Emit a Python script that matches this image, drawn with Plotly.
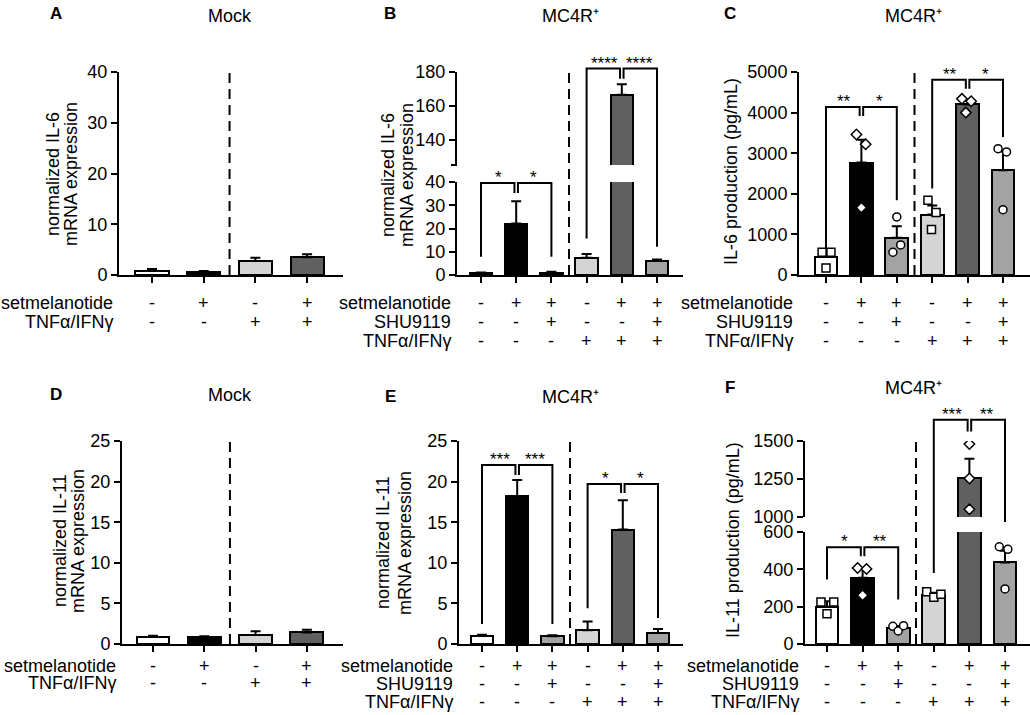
import plotly.graph_objects as go

# ---------------- data ----------------
A_mean = [0.85, 0.52, 2.75, 3.5]
A_sem = [0.33, 0.27, 0.65, 0.57]

B_mean = [0.7, 22.1, 1.0, 7.4, 166.7, 6.1]
B_sem = [0.4, 9.6, 0.4, 1.6, 6.1, 0.6]

C_mean = [445, 2770, 920, 1490, 4200, 2580]
C_sem = [120, 560, 280, 220, 100, 460]
C_points = [[560, 560, 170], [3460, 3220, 1660], [1430, 560, 740],
            [1840, 1540, 1120], [4340, 4280, 4000], [3110, 3030, 1610]]

D_mean = [0.86, 0.82, 1.1, 1.43]
D_sem = [0.16, 0.12, 0.46, 0.33]

E_mean = [1.02, 18.2, 0.94, 1.68, 14.1, 1.35]
E_sem = [0.13, 2.0, 0.13, 1.1, 3.6, 0.49]

F_mean = [200, 355, 87, 262, 1258, 437]
F_sem = [29, 52, 9, 12, 125, 63]
F_points = [[225, 225, 162], [407, 402, 261], [95, 70, 98],
            [280, 250, 266], [1480, 1253, 1051], [521, 507, 295]]

rows_2 = ["setmelanotide", "TNFα/IFNγ"]
rows_3 = ["setmelanotide", "SHU9119", "TNFα/IFNγ"]
signs_2 = [["-", "+", "-", "+"], ["-", "-", "+", "+"]]
signs_3 = [["-", "+", "+", "-", "+", "+"],
           ["-", "-", "+", "-", "-", "+"],
           ["-", "-", "-", "+", "+", "+"]]

# brackets: (left, mid, right, height, left_end, mid_end, right_end, label_left, label_right)
B_brackets = [(0, 1, 2, 39.6, 7.9, 35.3, 7.9, "*", "*"),
              (3, 4, 5, 182, 15.7, 176.1, 12.1, "****", "****")]
C_brackets = [(0, 1, 2, 4139, 650, 3918, 1844, "**", "*"),
              (3, 4, 5, 4811, 2131, 4590, 3402, "**", "*")]
E_brackets = [(0, 1, 2, 22.05, 2.46, 20.8, 2.46, "***", "***"),
              (3, 4, 5, 19.7, 4.4, 18.6, 3.2, "*", "*")]
F_brackets = [(0, 1, 2, 518, 345, 470, 238, "*", "**"),
              (3, 4, 5, 1639, 380, 1562, 967, "***", "**")]

# ---------------- styles / geometry ----------------
W, H = 1030, 715
FONT = "Liberation Sans, Arial, sans-serif"
WHITE, BLACK, LIGHT, DARK, MID = "#ffffff", "#000000", "#d4d4d4", "#606060", "#a3a3a3"
colors4 = [WHITE, BLACK, LIGHT, DARK]
colors6 = [WHITE, BLACK, MID, LIGHT, DARK, MID]
symbols6 = ["square", "diamond", "circle", "square", "diamond", "circle"]
C_offsets = [[-0.11, 0.14, 0], [-0.14, 0.12, 0], [0, -0.11, 0.11],
             [-0.12, 0.11, -0.02], [-0.16, 0.1, -0.05], [-0.14, 0.1, 0]]
F_offsets = [[-0.17, 0.19, 0], [-0.14, 0.11, 0], [-0.15, 0.0, 0.15],
             [-0.2, 0.0, 0.2], [0, 0, 0], [-0.16, 0.08, 0]]

panels = [
    dict(letter="A", title="Mock", mean=A_mean, sem=A_sem, colors=colors4,
         x0=119, x1=343, c0=152, dc=51.7,
         segs=[(0, 40, 275, 72, [0, 10, 20, 30, 40], ["0", "10", "20", "30", "40"])],
         rows=rows_2, signs=signs_2, row_y=[303, 322], dash=1.5,
         letter_xy=(56, 13), title_xy=(230, 16),
         ytitle=["normalized IL-6", "mRNA expression"], ytitle_x=[53, 71], ytitle_y=174),
    dict(letter="B", title="MC4R⁺", mean=B_mean, sem=B_sem, colors=colors6,
         x0=457, x1=683, c0=481, dc=35.2,
         segs=[(0, 40, 275, 182, [0, 10, 20, 30, 40], ["0", "10", "20", "30", "40"]),
               (125.4, 180, 165, 72, [140, 160, 180], ["140", "160", "180"])],
         rows=rows_3, signs=signs_3, row_y=[303, 322, 341], dash=2.5,
         letter_xy=(390, 13), title_xy=(570, 16), brackets=B_brackets,
         ytitle=["normalized IL-6", "mRNA expression"], ytitle_x=[388, 407], ytitle_y=175),
    dict(letter="C", title="MC4R⁺", mean=C_mean, sem=C_sem, colors=colors6,
         x0=799, x1=1030, c0=826, dc=35.4,
         segs=[(0, 5000, 275, 72, [0, 1000, 2000, 3000, 4000, 5000],
                ["0", "1000", "2000", "3000", "4000", "5000"])],
         rows=rows_3, signs=signs_3, row_y=[303, 322, 341], dash=2.5,
         letter_xy=(730, 13), title_xy=(913, 16), brackets=C_brackets,
         points=C_points, offsets=C_offsets,
         ytitle=["IL-6 production (pg/mL)"], ytitle_x=[731], ytitle_y=172),
    dict(letter="D", title="Mock", mean=D_mean, sem=D_sem, colors=colors4,
         x0=122, x1=343, c0=153, dc=51.3,
         segs=[(0, 25, 644, 441, [0, 5, 10, 15, 20, 25], ["0", "5", "10", "15", "20", "25"])],
         rows=rows_2, signs=signs_2, row_y=[666, 683], dash=1.5,
         letter_xy=(56, 394), title_xy=(230, 395),
         ytitle=["normalized IL-11", "mRNA expression"], ytitle_x=[60, 78], ytitle_y=541),
    dict(letter="E", title="MC4R⁺", mean=E_mean, sem=E_sem, colors=colors6,
         x0=459, x1=683, c0=482, dc=35.2,
         segs=[(0, 25, 644, 441, [0, 5, 10, 15, 20, 25], ["0", "5", "10", "15", "20", "25"])],
         rows=rows_3, signs=signs_3, row_y=[666, 684, 702], dash=2.5,
         letter_xy=(390, 396), title_xy=(570, 397), brackets=E_brackets,
         ytitle=["normalized IL-11", "mRNA expression"], ytitle_x=[383, 405], ytitle_y=543),
    dict(letter="F", title="MC4R⁺", mean=F_mean, sem=F_sem, colors=colors6,
         x0=805, x1=1030, c0=827, dc=35.6,
         segs=[(0, 600, 644, 532, [0, 200, 400, 600], ["0", "200", "400", "600"]),
               (1000, 1500, 517, 441, [1000, 1250, 1500], ["1000", "1250", "1500"])],
         rows=rows_3, signs=signs_3, row_y=[666, 684, 702], dash=2.5,
         letter_xy=(730, 387), title_xy=(913, 388), brackets=F_brackets,
         points=F_points, offsets=F_offsets,
         ytitle=["IL-11 production (pg/mL)"], ytitle_x=[733], ytitle_y=540),
]


def px_x(px):
    return px / W


def px_y(py):
    return 1 - py / H


def value_to_py(segs, v):
    seg = segs[0]
    if len(segs) > 1 and v > segs[0][1]:
        seg = segs[1]
    vmin, vmax, pb, pt = seg[0], seg[1], seg[2], seg[3]
    return pb + (v - vmin) * (pt - pb) / (vmax - vmin)


fig = go.Figure()
layout = dict(template="none", width=W, height=H, margin=dict(l=0, r=0, t=0, b=0, pad=0),
              autosize=False,
              paper_bgcolor="white", plot_bgcolor="white", showlegend=False,
              font=dict(family=FONT, size=18, color="black"),
              bargap=0)
shapes = []
annotations = []

xi = 0
yi = 0
axis_common = dict(showline=True, linewidth=2, linecolor="black", ticks="outside",
                   ticklen=6, tickwidth=2, tickcolor="black", showgrid=False,
                   zeroline=False, fixedrange=True, automargin=False)

for p in panels:
    xi += 1
    xname = "x" if xi == 1 else f"x{xi}"
    xkey = "xaxis" if xi == 1 else f"xaxis{xi}"
    n = len(p["mean"])
    xr = [(p["x0"] - p["c0"]) / p["dc"], (p["x1"] - p["c0"]) / p["dc"]]
    ynames = []
    for si, (vmin, vmax, pb, pt, tv, tt) in enumerate(p["segs"]):
        yi += 1
        yname = "y" if yi == 1 else f"y{yi}"
        ykey = "yaxis" if yi == 1 else f"yaxis{yi}"
        ynames.append(yname)
        layout[ykey] = dict(axis_common, domain=[px_y(pb), px_y(pt)], range=[vmin, vmax],
                            anchor=xname, tickvals=tv, ticktext=tt,
                            tickfont=dict(size=18, family=FONT, color="black"))
        if si > 0 and vmin not in tv:
            # end tick at the bottom of the upper segment
            shapes.append(dict(type="line", xref="paper", yref="paper",
                               x0=px_x(p["x0"] - 6), x1=px_x(p["x0"]),
                               y0=px_y(pb), y1=px_y(pb),
                               line=dict(color="black", width=2)))
    layout[xkey] = dict(axis_common, domain=[px_x(p["x0"]), px_x(p["x1"])], range=xr,
                        anchor=ynames[0], tickvals=list(range(n)), showticklabels=False)

    xs = list(range(n))
    for yname in ynames:
        fig.add_trace(go.Bar(
            x=xs, y=p["mean"], xaxis=xname, yaxis=yname, width=0.64,
            marker=dict(color=p["colors"], line=dict(color="black", width=2)),
            error_y=dict(type="data", array=p["sem"], arrayminus=[0] * n, symmetric=False,
                         color="black", thickness=2, width=5),
            hoverinfo="skip"))
        if "points" in p:
            px_list, py_list, sym_list = [], [], []
            for i, (vals, offs) in enumerate(zip(p["points"], p["offsets"])):
                for v, o in zip(vals, offs):
                    px_list.append(i + o)
                    py_list.append(v)
                    sym_list.append(symbols6[i])
            fig.add_trace(go.Scatter(
                x=px_list, y=py_list, xaxis=xname, yaxis=yname, mode="markers",
                marker=dict(symbol=sym_list, size=8, color="white",
                            line=dict(color="black", width=1.5)),
                hoverinfo="skip"))

    # dashed separator
    top_py = p["segs"][-1][3] - 4
    bot_py = p["segs"][0][2]
    shapes.append(dict(type="line", xref=xname, yref="paper", x0=p["dash"], x1=p["dash"],
                       y0=px_y(bot_py), y1=px_y(top_py),
                       line=dict(color="black", width=2, dash="10px,6px")))

    # brackets
    g = 0.05
    for (l, m, r, h, le, me, re_, lab_l, lab_r) in p.get("brackets", []):
        yh = px_y(value_to_py(p["segs"], h))
        yle = px_y(value_to_py(p["segs"], le))
        yme = px_y(value_to_py(p["segs"], me))
        yre = px_y(value_to_py(p["segs"], re_))
        path1 = f"M {l},{yle} L {l},{yh} L {m - g},{yh} L {m - g},{yme}"
        path2 = f"M {m + g},{yme} L {m + g},{yh} L {r},{yh} L {r},{yre}"
        for path in (path1, path2):
            shapes.append(dict(type="path", xref=xname, yref="paper", path=path,
                               line=dict(color="black", width=2)))
        star_py = value_to_py(p["segs"], h) + 6
        for cx, lab in (((l + m) / 2, lab_l), ((m + r) / 2, lab_r)):
            annotations.append(dict(x=cx, y=px_y(star_py), xref=xname, yref="paper",
                                    text=lab, showarrow=False, xanchor="center",
                                    yanchor="bottom", font=dict(size=17, family=FONT)))

    # rows of +/-
    for ri, (lab, row) in enumerate(zip(p["rows"], p["signs"])):
        ry = px_y(p["row_y"][ri])
        annotations.append(dict(x=px_x(p["x0"] - 4), y=ry, xref="paper", yref="paper",
                                text=lab, showarrow=False, xanchor="right",
                                yanchor="middle", font=dict(size=18, family=FONT)))
        for i, s in enumerate(row):
            annotations.append(dict(x=i, y=ry, xref=xname, yref="paper", text=s,
                                    showarrow=False, xanchor="center", yanchor="middle",
                                    font=dict(size=18, family=FONT)))

    # titles
    annotations.append(dict(x=px_x(p["letter_xy"][0]), y=px_y(p["letter_xy"][1]),
                            xref="paper", yref="paper", text=f"<b>{p['letter']}</b>",
                            showarrow=False, xanchor="center", yanchor="middle",
                            font=dict(size=17, family=FONT)))
    annotations.append(dict(x=px_x(p["title_xy"][0]), y=px_y(p["title_xy"][1]),
                            xref="paper", yref="paper", text=p["title"],
                            showarrow=False, xanchor="center", yanchor="middle",
                            font=dict(size=18, family=FONT)))
    for t, tx in zip(p["ytitle"], p["ytitle_x"]):
        annotations.append(dict(x=px_x(tx), y=px_y(p["ytitle_y"]), xref="paper",
                                yref="paper", text=t, textangle=-90, showarrow=False,
                                xanchor="center", yanchor="middle",
                                font=dict(size=18, family=FONT)))

layout["shapes"] = shapes
layout["annotations"] = annotations
fig.update_layout(**layout)
fig.write_html("out.html", config={"displayModeBar": False},
               post_script="document.body.style.margin='0';document.body.style.overflow='hidden';")
